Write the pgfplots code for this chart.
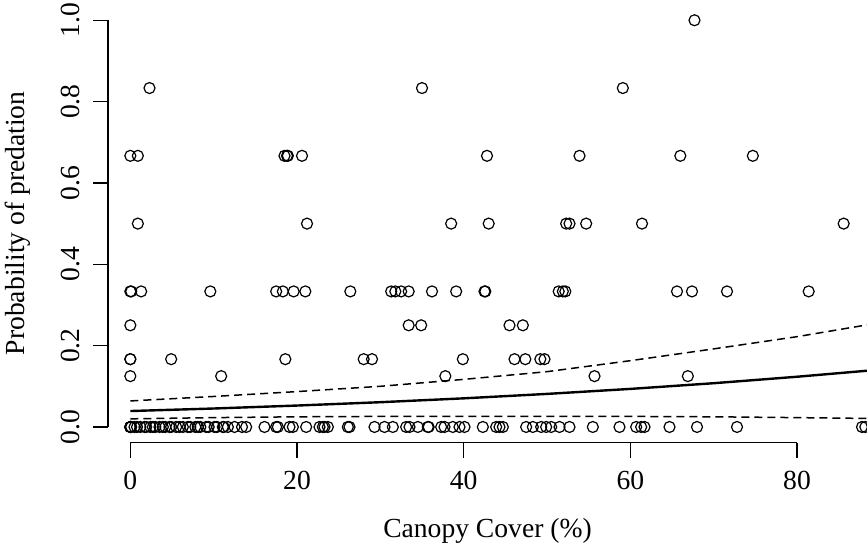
\documentclass[border=0pt]{standalone}
\usepackage{pgfplots}
\usepackage{pgfplotstable}
\pgfplotsset{compat=1.18}
\usepackage{fontspec}
\setmainfont{Liberation Serif}

% observed proportions (x = canopy cover, y = predation)
\pgfplotstableread{
x y
0 0
0 0
0 0
0 0
0.1 0
0.5 0
0.8 0
1.2 0
1.7 0
1.9 0
2.4 0
2.7 0
3.0 0
3.5 0
3.9 0
4.2 0
4.7 0
4.9 0
5.5 0
5.9 0
6.3 0
6.9 0
7.2 0
7.8 0
8.1 0
8.4 0
9.1 0
9.4 0
10.1 0
10.4 0
11.1 0
11.2 0
11.7 0
12.5 0
13.4 0
13.9 0
16.1 0
17.5 0
17.7 0
19.1 0
19.5 0
21.1 0
22.7 0
23.1 0
23.3 0
23.7 0
26.1 0
26.3 0
29.3 0
30.5 0
31.5 0
33.1 0
33.5 0
34.5 0
35.7 0
35.8 0
37.3 0
37.7 0
38.7 0
39.5 0
40.1 0
42.3 0
43.9 0
44.3 0
44.7 0
47.5 0
48.3 0
49.3 0
49.9 0
50.5 0
51.5 0
52.7 0
55.5 0
58.7 0
60.7 0
61.3 0
61.7 0
64.7 0
68.0 0
72.8 0
87.8 0
88.2 0
0 0.125
10.9 0.125
37.8 0.125
55.7 0.125
66.9 0.125
0 0.1667
0 0.1667
4.9 0.1667
18.6 0.1667
28.0 0.1667
29.0 0.1667
39.9 0.1667
46.1 0.1667
47.4 0.1667
49.2 0.1667
49.7 0.1667
0 0.25
33.4 0.25
34.9 0.25
45.5 0.25
47.1 0.25
0 0.3333
0.1 0.3333
1.3 0.3333
9.6 0.3333
17.5 0.3333
18.3 0.3333
19.6 0.3333
21.0 0.3333
26.4 0.3333
31.3 0.3333
31.8 0.3333
32.5 0.3333
33.4 0.3333
36.2 0.3333
39.1 0.3333
42.5 0.3333
42.6 0.3333
51.4 0.3333
51.9 0.3333
52.2 0.3333
65.6 0.3333
67.4 0.3333
71.6 0.3333
81.4 0.3333
0.9 0.5
21.2 0.5
38.5 0.5
43.0 0.5
52.3 0.5
52.7 0.5
54.7 0.5
61.4 0.5
85.6 0.5
0 0.6667
0.9 0.6667
18.5 0.6667
18.8 0.6667
18.9 0.6667
20.6 0.6667
42.8 0.6667
53.9 0.6667
66.0 0.6667
74.7 0.6667
2.3 0.8333
35.0 0.8333
59.1 0.8333
67.7 1.0
}\obs

\begin{document}
\begin{tikzpicture}
\begin{axis}[
  scale only axis,
  width=379.5pt, height=219.35pt,
  xmin=-2.68, xmax=88.4,
  ymin=-0.0386, ymax=1.04,
  clip=false,
  axis line style={draw=none},
  xtick={0,20,40,60,80},
  ytick={0,0.2,0.4,0.6,0.8,1.0},
  yticklabels={0.0,0.2,0.4,0.6,0.8,1.0},
  xtick pos=bottom, ytick pos=left,
  tick align=outside,
  major tick length=7.5pt,
  every tick/.style={black, line width=0.65pt},
  /pgf/number format/assume math mode=true,
  every tick label/.append style={font=\fontsize{13.8}{16}\selectfont},
  xticklabel style={anchor=center, yshift=-11.4pt},
  yticklabel style={anchor=center, xshift=-11pt, rotate=90},
  label style={font=\fontsize{13.8}{16}\selectfont},
  xlabel={Canopy Cover (\%)},
  ylabel={Probability of predation},
  xlabel style={at={(axis description cs:0.5,-0.2)}, anchor=center},
  ylabel style={at={(axis description cs:-0.1186,0.5)}, anchor=center, rotate=0},
]
\addplot[only marks, mark=o, mark size=2.75pt, mark options={line width=0.6pt, black}] table {\obs};

\addplot[black, line width=1.2pt, no markers] coordinates {
(0,0.0392) (10,0.0454) (20,0.0527) (30,0.0609) (40,0.0704)
(50,0.0813) (60,0.0936) (70,0.1076) (80,0.1235) (88.4,0.1383)
};
\addplot[black, line width=0.75pt, dash pattern=on 4pt off 2.5pt, no markers] coordinates {
(0,0.064) (10,0.075) (20,0.087) (30,0.100) (40,0.117)
(50,0.136) (60,0.163) (70,0.192) (80,0.222) (88.4,0.251)
};
\addplot[black, line width=0.75pt, dash pattern=on 4pt off 2.5pt, no markers] coordinates {
(0,0.020) (10,0.023) (20,0.025) (30,0.026) (40,0.026)
(50,0.026) (60,0.026) (70,0.025) (80,0.023) (88.4,0.021)
};

\draw[line width=0.65pt] (axis cs:0,-0.0386) -- (axis cs:80,-0.0386);
\draw[line width=0.65pt] (axis cs:-2.68,0) -- (axis cs:-2.68,1);
\coordinate (bl) at (axis description cs:-0.1423,-0.2377);
\coordinate (tr) at (axis description cs:1,1.0091);
\end{axis}
\pgfresetboundingbox
\path (bl) rectangle (tr);
\end{tikzpicture}
\end{document}
